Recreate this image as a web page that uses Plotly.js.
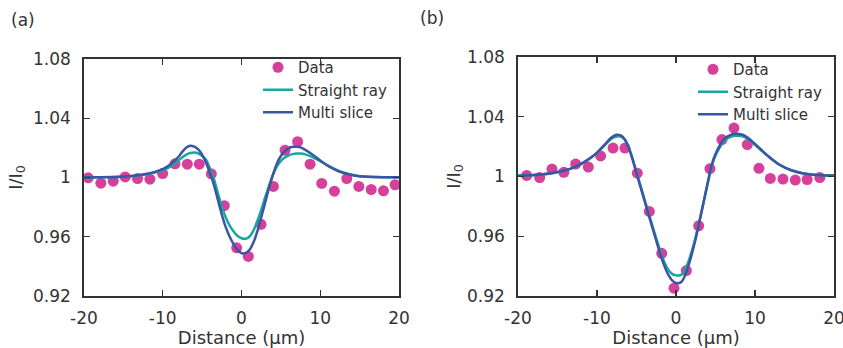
<!DOCTYPE html>
<html>
<head>
<meta charset="utf-8">
<script src="https://cdn.plot.ly/plotly-3.0.1.min.js"></script>
<style>html,body{margin:0;padding:0;background:#fff;}#chart{width:843px;height:348px;}</style>
</head>
<body>
<div id="chart"></div>
<script>
// ---------- Panel (a) ----------
const dataXa = [-19.47,-17.86,-16.29,-14.77,-13.2,-11.63,-10.02,-8.45,-6.88,-5.36,-3.83,-2.18,-0.61,0.87,2.48,4.05,5.53,7.13,8.71,10.19,11.8,13.37,14.9,16.47,18.03,19.51];
const dataYa = [0.9998,0.9962,0.9975,1.0004,0.9993,0.9989,1.0027,1.0092,1.0090,1.0090,1.0025,0.9810,0.9525,0.9467,0.9684,0.9940,1.0184,1.0242,1.0090,0.9960,0.9908,0.9993,0.9940,0.9919,0.9910,0.9951];

const curveXa = [-20,-18,-16,-14,-12,-11,-10,-9,-8,-7.5,-7,-6.5,-6,-5.5,-5,-4.5,-4,-3.5,-3,-2.5,-2,-1.5,-1,-0.5,0,0.3,0.7,1,1.5,2,2.5,3,3.5,4,4.5,5,5.5,6,6.5,7,7.5,8,9,10,11,12,13,14,15,16,18,20];
const straightYa = [1.0002,1.0002,1.0004,1.0009,1.0022,1.0033,1.0048,1.0075,1.0115,1.0137,1.0155,1.0165,1.0168,1.0162,1.0145,1.0120,1.0060,0.9990,0.9895,0.9805,0.9730,0.9675,0.9635,0.9605,0.9590,0.9586,0.9590,0.9600,0.9640,0.9705,0.9780,0.9865,0.9945,1.0020,1.0075,1.0112,1.0135,1.0150,1.0158,1.0162,1.0162,1.0158,1.0138,1.0110,1.0080,1.0053,1.0032,1.0018,1.0009,1.0005,1.0002,1.0002];
const multiYa = [1.0000,1.0001,1.0003,1.0010,1.0025,1.0038,1.0057,1.0090,1.0140,1.0175,1.0203,1.0215,1.0208,1.0190,1.0155,1.0100,1.0030,0.9950,0.9850,0.9750,0.9665,0.9600,0.9550,0.9510,0.9490,0.9487,0.9495,0.9510,0.9560,0.9635,0.9730,0.9830,0.9930,1.0020,1.0095,1.0145,1.0178,1.0198,1.0207,1.0208,1.0203,1.0190,1.0155,1.0115,1.0078,1.0050,1.0030,1.0017,1.0009,1.0005,1.0002,1.0001];

// ---------- Panel (b) ----------
const dataXb = [-18.9,-17.26,-15.7,-14.2,-12.7,-11.1,-9.54,-7.97,-6.46,-4.9,-3.38,-1.81,-0.25,1.31,2.87,4.3,5.82,7.34,9.03,10.5,11.94,13.54,15.1,16.6,18.2];
const dataYb = [1.0007,0.9993,1.0050,1.0028,1.0083,1.0063,1.0138,1.0190,1.0190,1.0022,0.9766,0.9486,0.9252,0.9370,0.9670,1.0052,1.0247,1.0324,1.0214,1.0055,0.9987,0.9983,0.9976,0.9980,0.9993];

const curveXb = [-20,-18,-16,-14,-13,-12,-11,-10,-9,-8.5,-8,-7.5,-7,-6.5,-6,-5.5,-5,-4.5,-4,-3.5,-3,-2.5,-2,-1.5,-1,-0.5,0,0.3,0.7,1,1.5,2,2.5,3,3.5,4,4.5,5,5.5,6,6.5,7,7.5,8,8.5,9,10,11,12,13,14,15,16,18,20];
const straightYb = [1.0005,1.0010,1.0020,1.0042,1.0060,1.0085,1.0117,1.0158,1.0210,1.0238,1.0258,1.0268,1.0268,1.0248,1.0198,1.0120,1.0030,0.9940,0.9850,0.9760,0.9672,0.9585,0.9502,0.9430,0.9378,0.9348,0.9338,0.9337,0.9343,0.9360,0.9420,0.9500,0.9598,0.9710,0.9830,0.9950,1.0065,1.0140,1.0192,1.0230,1.0255,1.0268,1.0273,1.0273,1.0268,1.0255,1.0212,1.0165,1.0120,1.0082,1.0055,1.0035,1.0022,1.0010,1.0006];
const multiYb = [1.0005,1.0010,1.0020,1.0042,1.0060,1.0085,1.0118,1.0160,1.0215,1.0245,1.0268,1.0280,1.0275,1.0250,1.0195,1.0115,1.0022,0.9930,0.9840,0.9750,0.9660,0.9570,0.9482,0.9405,0.9345,0.9305,0.9287,0.9285,0.9295,0.9320,0.9390,0.9480,0.9585,0.9705,0.9830,0.9955,1.0075,1.0150,1.0205,1.0245,1.0268,1.0280,1.0286,1.0285,1.0278,1.0262,1.0218,1.0168,1.0122,1.0082,1.0055,1.0035,1.0022,1.0010,1.0006];

// ---------- Axis ticks ----------
const xTickVals = [-20,-10,0,10,20];
const xTickText = ["-20","-10","0","10","20"];
const yTickVals = [0.92,0.96,1,1.04,1.08];
const yTickText = ["0.92","0.96","1","1.04","1.08"];

const names = ["Data","Straight ray","Multi slice"];
const colData = "#d6409a", colStraight = "#17a6a0", colMulti = "#3b54a4";
const FONT = "DejaVu Sans";
const TXT = "#333333";

function traces(xd, yd, xc, ys, ym, xa, ya, leg) {
  return [
    {x: xd, y: yd, xaxis: xa, yaxis: ya, legend: leg, name: names[0], mode: "markers", type: "scatter",
     marker: {color: colData, size: 11, line: {width: 0}}},
    {x: xc, y: ys, xaxis: xa, yaxis: ya, legend: leg, name: names[1], mode: "lines", type: "scatter",
     line: {color: colStraight, width: 2.5, shape: "spline", smoothing: 0.6}},
    {x: xc, y: ym, xaxis: xa, yaxis: ya, legend: leg, name: names[2], mode: "lines", type: "scatter",
     line: {color: colMulti, width: 2.5, shape: "spline", smoothing: 0.6}}
  ];
}

const data = [].concat(
  traces(dataXa, dataYa, curveXa, straightYa, multiYa, "x", "y", "legend"),
  traces(dataXb, dataYb, curveXb, straightYb, multiYb, "x2", "y2", "legend2")
);

function xAxis(domain, anchor) {
  return {domain: domain, anchor: anchor, range: [-20, 20], tickmode: "array", tickvals: xTickVals, ticktext: xTickText,
    ticks: "inside", ticklen: 6, tickwidth: 1.2, tickcolor: "#333", showline: true, linecolor: "#333", linewidth: 1.8,
    mirror: "ticks", showgrid: false, zeroline: false, ticklabelstandoff: 6, ticklabeloverflow: "allow",
    tickfont: {family: FONT, size: 17, color: TXT},
    title: {text: "Distance (µm)", font: {family: FONT, size: 18, color: TXT}, standoff: 4}};
}
function yAxis(domain, anchor, standoff) {
  return {domain: domain, anchor: anchor, range: [0.92, 1.08], tickmode: "array", tickvals: yTickVals, ticktext: yTickText,
    ticks: "inside", ticklen: 6, tickwidth: 1.2, tickcolor: "#333", showline: true, linecolor: "#333", linewidth: 1.8,
    mirror: "ticks", showgrid: false, zeroline: false, ticklabelstandoff: 8,
    tickfont: {family: FONT, size: 17, color: TXT},
    title: {text: "I/I<sub>0</sub>", font: {family: FONT, size: 18, color: TXT}, standoff: standoff}};
}

const legendBase = {bgcolor: "rgba(0,0,0,0)", borderwidth: 0, font: {family: FONT, size: 15, color: TXT},
  xanchor: "left", yanchor: "top", tracegroupgap: 0, itemwidth: 30};

const layout = {
  width: 843, height: 348,
  margin: {l: 0, r: 0, t: 0, b: 0},
  paper_bgcolor: "#fff", plot_bgcolor: "#fff",
  showlegend: true,
  xaxis: xAxis([84/843, 399/843], "y"),
  yaxis: yAxis([52/348, 289/348], "x", 6),
  xaxis2: xAxis([518/843, 834/843], "y2"),
  yaxis2: yAxis([52/348, 291/348], "x2", 2),
  legend: Object.assign({}, legendBase, {x: 258/843, y: 1 - 51/348}),
  legend2: Object.assign({}, legendBase, {x: 693/843, y: 1 - 53/348}),
  annotations: [
    {text: "(a)", xref: "paper", yref: "paper", x: 9/843, y: 1 - 20/348, xanchor: "left", yanchor: "middle", showarrow: false,
     font: {family: FONT, size: 17, color: TXT}},
    {text: "(b)", xref: "paper", yref: "paper", x: 418/843, y: 1 - 18/348, xanchor: "left", yanchor: "middle", showarrow: false,
     font: {family: FONT, size: 17, color: TXT}}
  ]
};

Plotly.newPlot("chart", data, layout, {staticPlot: true, displayModeBar: false});
</script>
</body>
</html>
